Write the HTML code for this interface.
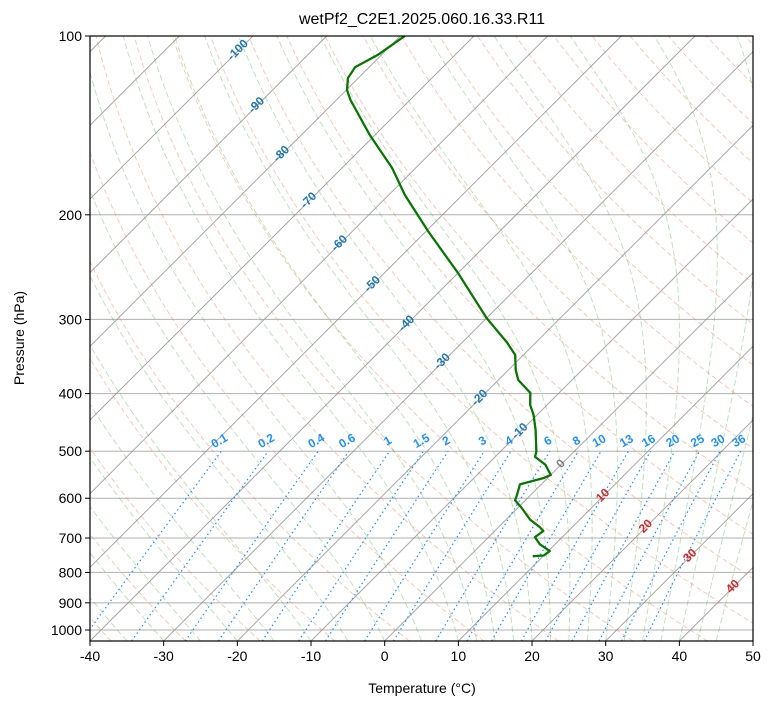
<!DOCTYPE html>
<html><head><meta charset="utf-8">
<style>
body{margin:0;background:#fff;}
svg text{font-family:"Liberation Sans",sans-serif;}
</style></head>
<body>
<svg id="chart" width="775" height="708" viewBox="0 0 775 708" xmlns="http://www.w3.org/2000/svg">
<defs><clipPath id="clip"><rect x="90" y="36" width="663" height="605"/></clipPath></defs>
<rect x="0" y="0" width="775" height="708" fill="#fff"/>
<g id="bg" clip-path="url(#clip)"></g>
<g id="marks" clip-path="url(#clip)"></g>
<g id="labels"></g>
<rect x="90" y="36" width="663" height="605" fill="none" stroke="#000" stroke-width="1.2"/>
<g id="axes"></g>
<text x="422" y="24" font-size="16" text-anchor="middle">wetPf2_C2E1.2025.060.16.33.R11</text>
<text x="422" y="693" font-size="14" text-anchor="middle">Temperature (°C)</text>
<text x="24" y="338" font-size="14" text-anchor="middle" transform="rotate(-90 24 338)">Pressure (hPa)</text>
</svg>
<script>
const pressures=[100,107.6,112.8,117.7,123.3,128.1,146.8,166.8,185.2,213.6,250.6,298.4,328.7,344.4,365.0,379.4,398.9,417.9,434.2,460.0,501.1,511.0,527.0,548.2,554.5,568.6,591.6,604.9,620.6,652.3,671.1,681.3,697.8,717.0,736.4,748.9,751.3];
const temperatures=[-79.4,-80.5,-81.9,-81.4,-79.9,-78.1,-70.7,-63.2,-57.8,-49.6,-40.0,-30.0,-23.8,-21.1,-19.0,-17.3,-13.9,-12.3,-10.5,-8.2,-5.1,-4.6,-2.1,0.0,-0.5,-2.9,-1.9,-1.4,0.3,3.3,5.6,6.6,6.3,7.9,10.2,10.0,8.6];
const dewpoints=temperatures.slice();
const xTicks=[-40,-30,-20,-10,0,10,20,30,40,50];
const yTicks=[100,200,300,400,500,600,700,800,900,1000];
const mixRatios=[0.1,0.2,0.4,0.6,1,1.5,2,3,4,6,8,10,13,16,20,25,30,36];
const mixLabels=["0.1","0.2","0.4","0.6","1","1.5","2","3","4","6","8","10","13","16","20","25","30","36"];
const isoLabelTemps=[-100,-90,-80,-70,-60,-50,-40,-30,-20,-10,0,10,20,30,40];
const isoLabelPress=[105,130,157,188,222,260,303,351,404,460,522,590,665,745,840];

const NS="http://www.w3.org/2000/svg";
const X0=90,XR=753,YT=36,YB=641,K=7.367,DEC=594;
function yOf(p){return YT+DEC*Math.log10(p/100);}
function xOf(T,p){return X0+(T+40)*K+(YB-yOf(p));}
function el(tag,attrs,parent){const e=document.createElementNS(NS,tag);for(const k in attrs)e.setAttribute(k,attrs[k]);parent.appendChild(e);return e;}
const bg=document.getElementById('bg'),marks=document.getElementById('marks'),labels=document.getElementById('labels'),axes=document.getElementById('axes');
const pBot=100*Math.pow(10,(YB-YT)/DEC);
function pathFrom(pts){return pts.map((q,i)=>(i?'L':'M')+q[0].toFixed(2)+','+q[1].toFixed(2)).join('');}
const plist=[];for(let i=0;i<=120;i++)plist.push(pBot*Math.pow(100/pBot,i/120));

yTicks.forEach(p=>{const l=el('line',{x1:X0,x2:XR,y1:yOf(p),y2:yOf(p),stroke:'#b0b0b0','stroke-width':1},bg);

});
for(let th=-50;th<=300;th+=10){const thK=th+273.15;const pts=plist.map(p=>[xOf(thK*Math.pow(p/1000,0.2857)-273.15,p),yOf(p)]);
const e=el('path',{d:pathFrom(pts),fill:'none',stroke:'#f4845f','stroke-opacity':0.45,'stroke-width':1,'stroke-dasharray':'5,3'},bg);

}
function es(T){return 6.112*Math.exp(17.67*T/(T+243.5));}
function moist(T0){let T=T0+273.15;const pts=[[xOf(T0,pBot),yOf(pBot)]];let p=pBot;const steps=300;const dlp=Math.log(100/pBot)/steps;
for(let i=0;i<steps;i++){const e=es(T-273.15);const rs=0.622*e/(p-e);const dTdp=(287*T+2.5e6*rs)/(p*(1004+2.5e6*2.5e6*rs*0.622/(287*T*T)));
const pn=p*Math.exp(dlp);T+=dTdp*(pn-p);p=pn;pts.push([xOf(T-273.15,p),yOf(p)]);}return pts;}
const mT0=[];for(let t=-50;t<=10;t+=5)mT0.push(t);for(let t=12.5;t<=45;t+=2.5)mT0.push(t);
mT0.forEach(t=>{const e=el('path',{d:pathFrom(moist(t)),fill:'none',stroke:'#2ca02c','stroke-opacity':0.3,'stroke-width':1,'stroke-dasharray':'6,3'},bg);

});
for(let T=-200;T<=50;T+=10){const e=el('line',{x1:xOf(T,pBot),y1:YB,x2:xOf(T,100),y2:YT,stroke:'#909090','stroke-opacity':0.8,'stroke-width':1},bg);

}
function tdw(w,p){const e=p*w/(622+w);const l=Math.log(e/6.112);return 243.5*l/(17.67-l);}
mixRatios.forEach((w,i)=>{const pts=[];for(let j=0;j<=40;j++){const p=pBot*Math.pow(500/pBot,j/40);pts.push([xOf(tdw(w,p),p),yOf(p)]);}
const e=el('path',{d:pathFrom(pts),fill:'none',stroke:'dodgerblue','stroke-width':1.2,'stroke-dasharray':'1.5,3'},bg);


const lx=xOf(tdw(w,500),500),ly=yOf(500)-7;
const t=el('text',{x:lx,y:ly,'font-size':12,'font-weight':'bold',fill:'dodgerblue','text-anchor':'middle',transform:`rotate(-30 ${lx} ${ly})`},labels);
t.textContent=mixLabels[i];

});
isoLabelTemps.forEach((T,i)=>{const p=isoLabelPress[i];const lx=xOf(T,p),ly=yOf(p)+4;
const col=T<0?'#1f77b4':(T===0?'#808080':'#d62728');
const t=el('text',{x:lx,y:ly,'font-size':12,'font-weight':'bold',fill:col,'text-anchor':'middle',transform:`rotate(-45 ${lx} ${ly})`},labels);
t.textContent=String(T);

});
const tp=pressures.map((p,i)=>[xOf(temperatures[i],p),yOf(p)]);
const dp=pressures.map((p,i)=>[xOf(dewpoints[i],p),yOf(p)]);
const tl=el('path',{d:pathFrom(tp),fill:'none',stroke:'#d62728','stroke-width':2,'stroke-linejoin':'round'},marks);


const dl=el('path',{d:pathFrom(dp),fill:'none',stroke:'#007a00','stroke-width':2.2,'stroke-linejoin':'round'},marks);


xTicks.forEach(T=>{const x=X0+(T+40)*K;el('line',{x1:x,x2:x,y1:YB,y2:YB+5,stroke:'#000'},axes);
const t=el('text',{x:x,y:YB+20,'font-size':14,'text-anchor':'middle'},axes);t.textContent=String(T);

});
yTicks.forEach(p=>{const y=yOf(p);el('line',{x1:X0-5,x2:X0,y1:y,y2:y,stroke:'#000'},axes);
const t=el('text',{x:X0-8,y:y+5,'font-size':14,'text-anchor':'end'},axes);t.textContent=String(p);

});
</script>
</body></html>
